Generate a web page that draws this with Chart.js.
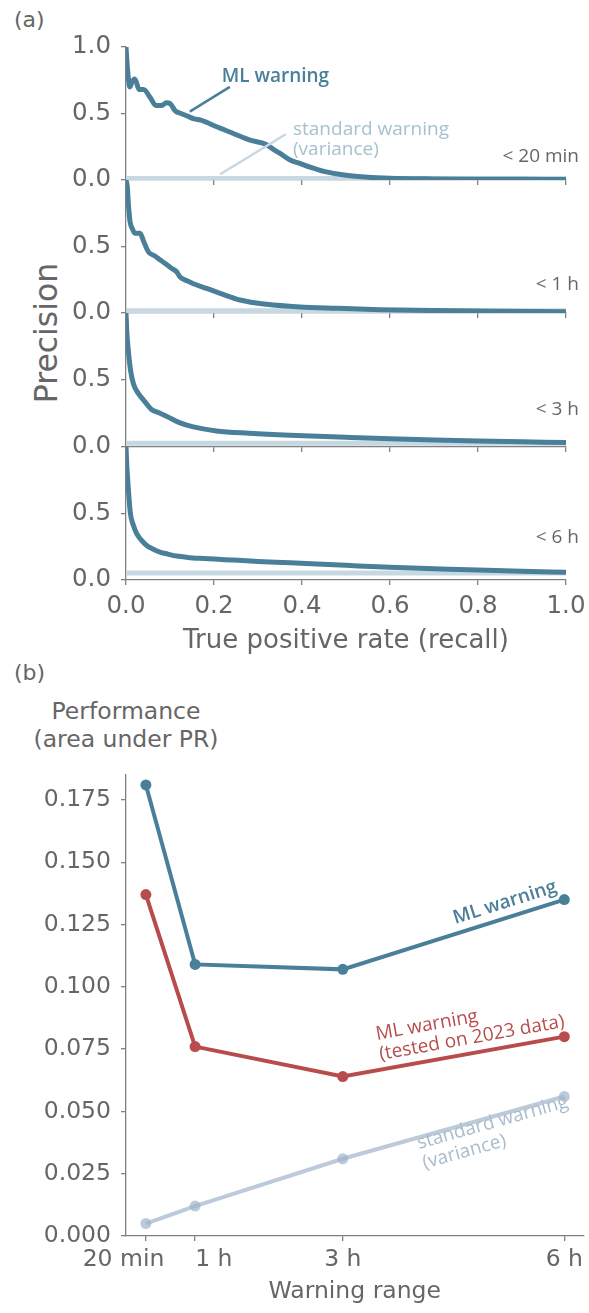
<!DOCTYPE html>
<html>
<head>
<meta charset="utf-8">
<script src="https://cdn.jsdelivr.net/npm/chart.js@4.4.1/dist/chart.umd.min.js"></script>
<style>
  html, body { margin: 0; padding: 0; background: #fff; }
  #page { position: relative; width: 589px; height: 1313px; overflow: hidden; font-family: "DejaVu Sans"; color: #666; }
  #page canvas { position: absolute; left: 0; }
  .txt { position: absolute; white-space: nowrap; }
</style>
</head>
<body>
<div id="page">
  <div class="txt" style="left:14px;top:9px;font-size:22px;line-height:1">(a)</div>
  <div class="txt" style="left:47px;top:333px;font-size:31.5px;line-height:1;transform:translate(-50%,-50%) rotate(-90deg)">Precision</div>
  <div class="txt" style="left:14px;top:662px;font-size:22px;line-height:1">(b)</div>
  <div class="txt" style="left:-24px;top:698px;width:300px;text-align:center;font-size:23.5px;line-height:27.5px">Performance<br>(area under PR)</div>

  <canvas id="pr0" width="589" height="188" style="top:0"></canvas>
  <canvas id="pr1" width="589" height="321" style="top:0"></canvas>
  <canvas id="pr2" width="589" height="455" style="top:0"></canvas>
  <canvas id="pr3" width="589" height="660" style="top:0"></canvas>
  <canvas id="auc" width="589" height="653" style="top:660px"></canvas>
</div>
<script>
// (a) precision-recall curves, one per warning range
const recall20min = [0, 0.003, 0.009, 0.014, 0.02, 0.03, 0.04, 0.055, 0.068, 0.08, 0.092, 0.1, 0.112, 0.125, 0.14, 0.155, 0.17, 0.206, 0.244, 0.282, 0.32, 0.335, 0.35, 0.373, 0.395, 0.42, 0.45, 0.5, 0.55, 0.6, 0.7, 0.8, 0.9, 1.0];
const prec20min   = [1.0, 0.85, 0.70, 0.74, 0.76, 0.68, 0.68, 0.62, 0.56, 0.56, 0.58, 0.575, 0.52, 0.50, 0.48, 0.46, 0.45, 0.40, 0.35, 0.30, 0.265, 0.23, 0.20, 0.15, 0.125, 0.095, 0.065, 0.035, 0.02, 0.013, 0.008, 0.006, 0.005, 0.004];

const recall1h = [0, 0.003, 0.005, 0.009, 0.015, 0.02, 0.032, 0.04, 0.051, 0.065, 0.077, 0.09, 0.104, 0.115, 0.123, 0.14, 0.153, 0.183, 0.214, 0.259, 0.32, 0.395, 0.48, 0.577, 0.7, 0.85, 1.0];
const prec1h   = [1.0, 0.95, 0.84, 0.69, 0.63, 0.60, 0.60, 0.54, 0.46, 0.43, 0.40, 0.37, 0.335, 0.31, 0.27, 0.24, 0.22, 0.185, 0.148, 0.098, 0.065, 0.045, 0.035, 0.025, 0.018, 0.014, 0.01];

const recall3h = [0, 0.002, 0.005, 0.01, 0.017, 0.028, 0.04, 0.058, 0.075, 0.092, 0.123, 0.153, 0.206, 0.28, 0.373, 0.5, 0.6, 0.7, 0.8, 0.9, 1.0];
const prec3h   = [1.0, 0.85, 0.73, 0.58, 0.47, 0.40, 0.35, 0.28, 0.255, 0.23, 0.18, 0.15, 0.12, 0.103, 0.088, 0.073, 0.062, 0.053, 0.045, 0.039, 0.033];

const recall6h = [0, 0.002, 0.005, 0.01, 0.017, 0.024, 0.035, 0.047, 0.06, 0.077, 0.095, 0.115, 0.14, 0.168, 0.244, 0.3, 0.373, 0.5, 0.6, 0.7, 0.8, 0.9, 1.0];
const prec6h   = [1.0, 0.85, 0.70, 0.50, 0.41, 0.35, 0.30, 0.26, 0.235, 0.21, 0.195, 0.18, 0.17, 0.163, 0.15, 0.14, 0.13, 0.11, 0.095, 0.085, 0.075, 0.066, 0.058];

// standard warning (variance) precision, flat over recall
const stdPrecision = [0.012, 0.016, 0.028, 0.053];
const rangeNames = ["< 20 min", "< 1 h", "< 3 h", "< 6 h"];
const recallTicks = [0, 0.2, 0.4, 0.6, 0.8, 1.0];
const precTicks = [0, 0.5, 1.0];

// (b) area under PR per warning range
const hours = [1 / 3, 1, 3, 6];
const hourLabels = ["20 min      ", "     1 h", "3 h", "6 h"];
const aucML = [0.181, 0.109, 0.107, 0.135];
const aucML2023 = [0.137, 0.076, 0.064, 0.080];
const aucStd = [0.005, 0.012, 0.031, 0.056];
const aucTicks = [0, 0.025, 0.05, 0.075, 0.1, 0.125, 0.15, 0.175];

const blue = "#4a7f99";
const red = "#b84c4c";
const lightBlue = "#c6d9e2";
const grey = "#666";
const axisGrey = "#808080";
const dejavu = "DejaVu Sans";

const prCurves = [
  [recall20min, prec20min],
  [recall1h, prec1h],
  [recall3h, prec3h],
  [recall6h, prec6h]
];

// chart area of each subplot in page pixels
const areaTop = [47, 180, 313, 447];
const areaBottom = [180, 313, 447, 580];
const rangeLabelY = [0.133, 0.173, 0.24, 0.276];

function notesPlugin(spec) {
  return {
    id: "notes",
    afterDatasetsDraw(chart) {
      const ctx = chart.ctx, xs = chart.scales.x, ys = chart.scales.y;
      ctx.save();
      (spec.lines || []).forEach(l => {
        ctx.strokeStyle = l.color;
        ctx.lineWidth = l.width;
        ctx.beginPath();
        ctx.moveTo(xs.getPixelForValue(l.x1), ys.getPixelForValue(l.y1));
        ctx.lineTo(xs.getPixelForValue(l.x2), ys.getPixelForValue(l.y2));
        ctx.stroke();
      });
      (spec.texts || []).forEach(t => {
        ctx.fillStyle = t.color;
        ctx.font = t.font;
        ctx.textAlign = t.align || "left";
        ctx.textBaseline = "alphabetic";
        t.lines.forEach((s, i) => {
          ctx.fillText(s, xs.getPixelForValue(t.x), ys.getPixelForValue(t.y) + i * (t.lh || 20));
        });
      });
      ctx.restore();
    }
  };
}

prCurves.forEach(([rec, prec], k) => {
  const last = k === 3;
  const canvas = document.getElementById("pr" + k);
  const axisH = canvas.height - areaBottom[k];

  const notes = {
    texts: [{ x: 1.0295, y: rangeLabelY[k], align: "right", lines: [rangeNames[k]], color: grey, font: '19px "Open Sans"' }]
  };
  if (k === 0) {
    notes.texts.push({ x: 0.2175, y: 0.739, lines: ["ML warning"], color: blue, font: '600 19px "Open Sans"' });
    notes.texts.push({ x: 0.3795, y: 0.338, lh: 20, lines: ["standard warning", "(variance)"], color: "#a6c1ce", font: '19px "Open Sans"' });
    notes.lines = [
      { x1: 0.145, y1: 0.514, x2: 0.236, y2: 0.70, color: blue, width: 2.5 },
      { x1: 0.214, y1: 0.043, x2: 0.363, y2: 0.344, color: lightBlue, width: 2.5 }
    ];
  }

  new Chart(canvas, {
    type: "line",
    data: {
      datasets: [
        {
          data: rec.map((r, i) => ({ x: r, y: prec[i] })),
          borderColor: blue,
          borderWidth: 5,
          pointRadius: 0,
          cubicInterpolationMode: "monotone",
          borderCapStyle: "round",
          borderJoinStyle: "round"
        },
        {
          data: [{ x: 0, y: stdPrecision[k] }, { x: 1, y: stdPrecision[k] }],
          borderColor: lightBlue,
          borderWidth: 5,
          pointRadius: 0
        }
      ]
    },
    options: {
      responsive: false,
      animation: false,
      events: [],
      layout: { padding: { top: areaTop[k], left: 0, right: 23, bottom: 0 } },
      plugins: { legend: { display: false }, tooltip: { enabled: false } },
      scales: {
        x: {
          type: "linear",
          min: 0,
          max: 1,
          afterBuildTicks: s => { s.ticks = recallTicks.map(v => ({ value: v })); },
          afterFit: s => { s.height = axisH; s.paddingLeft = 0; s.paddingRight = 0; },
          grid: { drawOnChartArea: false, drawTicks: true, tickLength: 5, color: axisGrey, lineWidth: 1.3 },
          border: { color: axisGrey, width: 1.3 },
          ticks: {
            display: last,
            color: grey,
            font: { family: dejavu, size: 24.5 },
            padding: 7,
            maxRotation: 0,
            callback: v => v.toFixed(1)
          },
          title: {
            display: last,
            text: "True positive rate (recall)",
            color: grey,
            font: { family: dejavu, size: 26 },
            padding: { top: 0, bottom: 3 }
          }
        },
        y: {
          type: "linear",
          min: 0,
          max: 1,
          afterBuildTicks: s => { s.ticks = (k === 0 ? precTicks : precTicks.slice(0, 2)).map(v => ({ value: v })); },
          afterFit: s => { s.width = 126; s.paddingTop = 0; s.paddingBottom = 0; },
          grid: { drawOnChartArea: false, drawTicks: true, tickLength: 5, color: axisGrey, lineWidth: 1.3 },
          border: { color: axisGrey, width: 1.3 },
          ticks: {
            color: grey,
            font: { family: dejavu, size: 24.5 },
            padding: 10,
            callback: v => v.toFixed(1)
          }
        }
      }
    },
    plugins: [notesPlugin(notes)]
  });
});

// rotated labels along the last segment of each line in (b)
const aucNotes = [
  { ds: 0, hour: 5.95, off: -9.5, align: "right", lines: ["ML warning"], color: blue, font: '600 19px "Open Sans"' },
  { ds: 1, hour: 3.535, off: -9.5, align: "left", lines: ["ML warning", "(tested on 2023 data)"], color: red, font: '19px "Open Sans"' },
  { ds: 2, hour: 3.99, off: 11.3, below: true, align: "left", lines: ["standard warning", "(variance)"], color: "#a9bccb", font: '19px "Open Sans"' }
];

const aucLabelPlugin = {
  id: "aucLabels",
  afterDatasetsDraw(chart) {
    const ctx = chart.ctx, xs = chart.scales.x, ys = chart.scales.y;
    const series = [aucML, aucML2023, aucStd];
    ctx.save();
    aucNotes.forEach(n => {
      const vals = series[n.ds];
      const x2 = xs.getPixelForValue(hours[2]), y2 = ys.getPixelForValue(vals[2]);
      const x3 = xs.getPixelForValue(hours[3]), y3 = ys.getPixelForValue(vals[3]);
      const angle = Math.atan2(y3 - y2, x3 - x2);
      const t = (n.hour - hours[2]) / (hours[3] - hours[2]);
      ctx.save();
      ctx.translate(x2 + t * (x3 - x2), y2 + t * (y3 - y2));
      ctx.rotate(angle);
      ctx.fillStyle = n.color;
      ctx.font = n.font;
      ctx.textAlign = n.align;
      ctx.textBaseline = "alphabetic";
      const lh = 20.5, cnt = n.lines.length;
      n.lines.forEach((s, i) => {
        const y = n.below ? n.off + i * lh : n.off - (cnt - 1 - i) * lh;
        ctx.fillText(s, 0, y);
      });
      ctx.restore();
    });
    ctx.restore();
  }
};

const pointsOf = vals => hours.map((h, i) => ({ x: h, y: vals[i] }));

new Chart(document.getElementById("auc"), {
  type: "line",
  data: {
    datasets: [
      { data: pointsOf(aucML), borderColor: blue, backgroundColor: blue, borderWidth: 4, pointRadius: 5.5, pointBorderWidth: 0 },
      { data: pointsOf(aucML2023), borderColor: red, backgroundColor: red, borderWidth: 4, pointRadius: 5.5, pointBorderWidth: 0 },
      { data: pointsOf(aucStd), borderColor: "rgba(160,180,202,0.7)", backgroundColor: "rgba(160,180,202,0.7)", borderWidth: 4, pointRadius: 5.5, pointBorderWidth: 0 }
    ]
  },
  options: {
    responsive: false,
    animation: false,
    events: [],
    layout: { padding: { top: 115, left: 0, right: 3, bottom: 0 } },
    plugins: { legend: { display: false }, tooltip: { enabled: false } },
    scales: {
      x: {
        type: "linear",
        min: 0.064,
        max: 6.26,
        afterBuildTicks: s => { s.ticks = hours.map(v => ({ value: v })); },
        afterFit: s => { s.height = 77; s.paddingLeft = 0; s.paddingRight = 0; },
        grid: { drawOnChartArea: false, drawTicks: true, tickLength: 5, color: axisGrey, lineWidth: 1.3 },
        border: { color: axisGrey, width: 1.3 },
        ticks: {
          color: grey,
          font: { family: dejavu, size: 23.5 },
          padding: 4.5,
          maxRotation: 0,
          autoSkip: false,
          callback: (v, i) => hourLabels[i]
        },
        title: {
          display: true,
          text: "Warning range",
          color: grey,
          font: { family: dejavu, size: 23.5 },
          padding: { top: 0, bottom: 7 }
        }
      },
      y: {
        type: "linear",
        min: 0,
        max: 0.185,
        afterBuildTicks: s => { s.ticks = aucTicks.map(v => ({ value: v })); },
        afterFit: s => { s.width = 126; s.paddingTop = 0; s.paddingBottom = 0; },
        grid: { drawOnChartArea: false, drawTicks: true, tickLength: 5, color: axisGrey, lineWidth: 1.3 },
        border: { color: axisGrey, width: 1.3 },
        ticks: {
          color: grey,
          font: { family: dejavu, size: 23.5 },
          padding: 10,
          callback: v => v.toFixed(3)
        }
      }
    }
  },
  plugins: [aucLabelPlugin]
});
</script>
</body>
</html>
